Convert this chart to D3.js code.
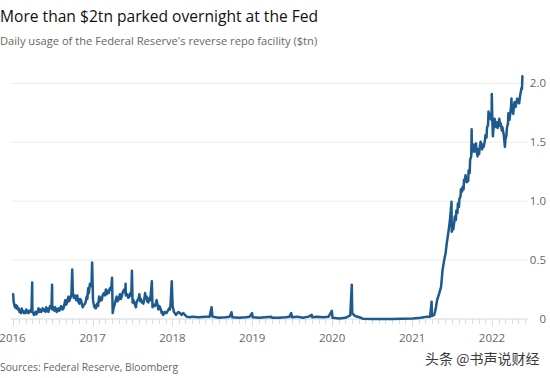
<!DOCTYPE html>
<html><head><meta charset="utf-8">
<script src="https://cdn.jsdelivr.net/npm/d3@7"></script>
<style>
html,body{margin:0;padding:0;background:#fff;}
svg{display:block;}
</style></head>
<body>
<svg id="c" width="550" height="378"></svg>
<script>
const title = "More than $2tn parked overnight at the Fed";
const subtitle = "Daily usage of the Federal Reserve's reverse repo facility ($tn)";
const source = "Sources: Federal Reserve, Bloomberg";
const watermark = "头条 @书声说财经";
const yTicks = [0, 0.5, 1.0, 1.5, 2.0];
const yTickLabels = ["0", "0.5", "1.0", "1.5", "2.0"];
const xYears = ["2016","2017","2018","2019","2020","2021","2022"];

const dates2016 = ["2016-01-04","2016-01-06","2016-01-08","2016-01-12","2016-01-15","2016-01-19","2016-01-22","2016-01-26","2016-01-29","2016-02-02","2016-02-05","2016-02-09","2016-02-12","2016-02-16","2016-02-19","2016-02-23","2016-02-26","2016-03-01","2016-03-04","2016-03-09","2016-03-14","2016-03-17","2016-03-22","2016-03-28","2016-03-31","2016-04-01","2016-04-05","2016-04-08","2016-04-12","2016-04-15","2016-04-19","2016-04-22","2016-04-26","2016-04-29","2016-05-03","2016-05-06","2016-05-11","2016-05-18","2016-05-23","2016-05-27","2016-05-31","2016-06-03","2016-06-08","2016-06-13","2016-06-17","2016-06-21","2016-06-27","2016-06-30","2016-07-01","2016-07-06","2016-07-11","2016-07-14","2016-07-19","2016-07-21","2016-07-26","2016-07-29","2016-08-02","2016-08-05","2016-08-10","2016-08-13","2016-08-17","2016-08-21","2016-08-25","2016-08-29","2016-09-01","2016-09-05","2016-09-08","2016-09-13","2016-09-16","2016-09-20","2016-09-26","2016-09-30","2016-10-03","2016-10-07","2016-10-12","2016-10-18","2016-10-23","2016-10-27","2016-11-02","2016-11-05","2016-11-09","2016-11-14","2016-11-17","2016-11-22","2016-11-28","2016-12-01","2016-12-05","2016-12-08","2016-12-12","2016-12-15","2016-12-20","2016-12-27","2016-12-30"];
const values2016 = [0.21,0.15,0.13,0.10,0.12,0.09,0.11,0.08,0.09,0.06,0.07,0.05,0.09,0.06,0.07,0.05,0.06,0.05,0.08,0.06,0.05,0.07,0.06,0.09,0.31,0.06,0.05,0.035,0.05,0.06,0.04,0.05,0.07,0.09,0.06,0.08,0.06,0.09,0.07,0.08,0.06,0.10,0.08,0.06,0.09,0.11,0.09,0.29,0.08,0.10,0.07,0.10,0.08,0.06,0.08,0.09,0.07,0.08,0.11,0.10,0.08,0.09,0.12,0.16,0.12,0.13,0.16,0.19,0.15,0.17,0.20,0.42,0.22,0.18,0.20,0.16,0.20,0.15,0.13,0.17,0.16,0.12,0.10,0.12,0.13,0.15,0.19,0.17,0.26,0.22,0.30,0.28,0.48];

const dates2017 = ["2017-01-03","2017-01-06","2017-01-10","2017-01-16","2017-01-19","2017-01-22","2017-01-26","2017-01-31","2017-02-03","2017-02-07","2017-02-12","2017-02-16","2017-02-22","2017-02-27","2017-03-03","2017-03-07","2017-03-12","2017-03-16","2017-03-21","2017-03-27","2017-03-31","2017-04-03","2017-04-07","2017-04-13","2017-04-18","2017-04-21","2017-04-25","2017-04-29","2017-05-03","2017-05-06","2017-05-10","2017-05-14","2017-05-18","2017-05-25","2017-05-31","2017-06-01","2017-06-02","2017-06-09","2017-06-13","2017-06-18","2017-06-23","2017-06-27","2017-06-30","2017-07-03","2017-07-07","2017-07-12","2017-07-18","2017-07-21","2017-07-26","2017-07-31","2017-08-03","2017-08-07","2017-08-10","2017-08-15","2017-08-21","2017-08-25","2017-08-29","2017-09-01","2017-09-05","2017-09-08","2017-09-13","2017-09-18","2017-09-22","2017-09-29","2017-10-02","2017-10-06","2017-10-13","2017-10-18","2017-10-21","2017-10-25","2017-10-29","2017-11-02","2017-11-05","2017-11-09","2017-11-13","2017-11-16","2017-11-20","2017-11-24","2017-11-28","2017-12-01","2017-12-05","2017-12-11","2017-12-17","2017-12-20","2017-12-23","2017-12-29"];
const values2017 = [0.16,0.13,0.10,0.09,0.12,0.13,0.11,0.19,0.15,0.18,0.16,0.20,0.22,0.20,0.25,0.21,0.24,0.22,0.26,0.25,0.35,0.05,0.09,0.13,0.17,0.19,0.15,0.16,0.19,0.21,0.17,0.19,0.22,0.25,0.22,0.30,0.20,0.21,0.18,0.19,0.22,0.20,0.41,0.14,0.16,0.13,0.10,0.14,0.16,0.18,0.21,0.15,0.17,0.14,0.13,0.16,0.22,0.18,0.19,0.15,0.14,0.18,0.16,0.32,0.10,0.12,0.11,0.14,0.16,0.12,0.08,0.11,0.10,0.08,0.05,0.06,0.035,0.05,0.06,0.05,0.05,0.07,0.09,0.08,0.11,0.32];

const dates2018_20 = ["2018-01-02","2018-01-08","2018-01-17","2018-01-28","2018-02-05","2018-02-12","2018-02-20","2018-03-07","2018-03-22","2018-04-02","2018-04-30","2018-05-31","2018-06-20","2018-06-29","2018-07-03","2018-07-31","2018-08-31","2018-09-20","2018-09-28","2018-10-02","2018-11-01","2018-12-03","2018-12-20","2018-12-31",
"2019-01-03","2019-02-01","2019-03-01","2019-03-29","2019-04-02","2019-05-01","2019-06-03","2019-06-20","2019-06-28","2019-07-02","2019-07-25","2019-08-20","2019-09-16","2019-09-30","2019-10-02","2019-10-25","2019-11-20","2019-12-16","2019-12-31",
"2020-01-03","2020-02-03","2020-03-02","2020-03-24","2020-03-31","2020-04-02","2020-04-15","2020-05-05","2020-05-20","2020-07-01","2020-10-01","2021-01-04","2021-02-10","2021-03-10","2021-03-24"];
const values2018_20 = [0.11,0.06,0.035,0.06,0.05,0.035,0.05,0.02,0.015,0.02,0.015,0.02,0.02,0.10,0.02,0.01,0.015,0.02,0.057,0.015,0.01,0.015,0.02,0.05,
0.015,0.01,0.015,0.02,0.01,0.01,0.015,0.02,0.05,0.015,0.02,0.01,0.02,0.035,0.015,0.02,0.015,0.02,0.07,
0.01,0.005,0.01,0.03,0.29,0.05,0.025,0.015,0.003,0.001,0.001,0.005,0.01,0.02,0.02];

const dates2021 = ["2021-03-31","2021-04-01","2021-04-12","2021-04-19","2021-04-25","2021-05-05","2021-05-13","2021-05-20","2021-05-26","2021-06-03","2021-06-08","2021-06-17","2021-06-22","2021-06-30","2021-07-01","2021-07-06","2021-07-08","2021-07-13","2021-07-15","2021-07-20","2021-07-22","2021-07-27","2021-07-29","2021-08-03","2021-08-05","2021-08-10","2021-08-12","2021-08-17","2021-08-19","2021-08-24","2021-08-26","2021-08-31","2021-09-02","2021-09-07","2021-09-09","2021-09-14","2021-09-16","2021-09-21","2021-09-23","2021-09-28","2021-09-30","2021-10-01","2021-10-05","2021-10-08","2021-10-13","2021-10-15","2021-10-20","2021-10-22","2021-10-27","2021-10-29","2021-11-03","2021-11-05","2021-11-10","2021-11-12","2021-11-17","2021-11-19","2021-11-24","2021-11-30","2021-12-02","2021-12-07","2021-12-09","2021-12-14","2021-12-16","2021-12-21","2021-12-23","2021-12-30","2021-12-31"];
const values2021 = [0.147,0.025,0.035,0.09,0.16,0.22,0.27,0.415,0.485,0.56,0.64,0.755,0.825,0.995,0.74,0.79,0.76,0.83,0.87,0.84,0.92,0.90,0.98,0.95,1.02,1.04,1.10,1.08,1.12,1.10,1.18,1.19,1.22,1.16,1.18,1.17,1.26,1.24,1.35,1.38,1.61,1.41,1.45,1.48,1.42,1.46,1.49,1.43,1.38,1.44,1.40,1.44,1.505,1.47,1.44,1.48,1.46,1.52,1.56,1.54,1.62,1.65,1.76,1.70,1.74,1.69,1.91];

const dates2022 = ["2022-01-03","2022-01-05","2022-01-07","2022-01-11","2022-01-13","2022-01-18","2022-01-20","2022-01-25","2022-01-27","2022-02-01","2022-02-03","2022-02-08","2022-02-10","2022-02-15","2022-02-17","2022-02-22","2022-02-24","2022-03-01","2022-03-03","2022-03-08","2022-03-10","2022-03-15","2022-03-17","2022-03-22","2022-03-24","2022-03-29","2022-03-31","2022-04-01","2022-04-05","2022-04-08","2022-04-12","2022-04-14","2022-04-19","2022-04-22","2022-04-26","2022-04-28","2022-05-02","2022-05-05","2022-05-09","2022-05-12","2022-05-16","2022-05-18","2022-05-20"];
const values2022 = [1.66,1.55,1.60,1.66,1.70,1.65,1.63,1.67,1.62,1.66,1.70,1.64,1.66,1.60,1.63,1.58,1.56,1.46,1.52,1.56,1.62,1.66,1.745,1.69,1.72,1.80,1.87,1.76,1.78,1.74,1.82,1.84,1.80,1.83,1.87,1.84,1.86,1.83,1.89,1.92,1.96,1.95,2.06];

const parse = d3.utcParse("%Y-%m-%d");
const allDates = [].concat(dates2016, dates2017, dates2018_20, dates2021, dates2022);
const allValues = [].concat(values2016, values2017, values2018_20, values2021, values2022);
const data = allDates.map((d, i) => ({date: parse(d), value: allValues[i]}));

const svg = d3.select("#c");
const x = d3.scaleUtc().domain([parse("2016-01-01"), parse("2022-01-01")]).range([12.5, 492]);
const y = d3.scaleLinear().domain([0, 2]).range([319, 83.3]);
const plotLeft = 11, plotRight = 528;
const grey = "#6b6662";

// title / subtitle
svg.append("text").attr("x", 0).attr("y", 21.5).text(title)
  .attr("font-family", "'Open Sans', sans-serif").attr("font-size", 15.6).attr("fill", "#111");
svg.append("text").attr("x", 0).attr("y", 45).text(subtitle)
  .attr("font-family", "'Open Sans', sans-serif").attr("font-size", 11.15).attr("fill", grey);

// gridlines
svg.append("g").selectAll("line").data(yTicks.filter(v => v > 0)).join("line")
  .attr("x1", plotLeft).attr("x2", plotRight)
  .attr("y1", d => y(d)).attr("y2", d => y(d))
  .attr("stroke", "#ebebeb").attr("stroke-width", 1);

// y labels
svg.append("g").selectAll("text").data(yTicks).join("text")
  .attr("x", 546).attr("y", d => y(d)).attr("dy", "0.35em")
  .attr("text-anchor", "end").text((d, i) => yTickLabels[i])
  .attr("font-family", "'Open Sans', sans-serif").attr("font-size", 11.5).attr("fill", grey);

// x axis baseline and ticks
svg.append("line").attr("x1", plotLeft).attr("x2", plotRight).attr("y1", y(0)).attr("y2", y(0))
  .attr("stroke", "#d6d6d6").attr("stroke-width", 1);
const months = d3.utcMonth.range(parse("2016-01-01"), parse("2022-07-01"));
svg.append("g").selectAll("line").data(months).join("line")
  .attr("x1", d => Math.round(x(d)) + 0.5).attr("x2", d => Math.round(x(d)) + 0.5)
  .attr("y1", y(0)).attr("y2", d => y(0) + (d.getUTCMonth() === 0 ? 7 : 5))
  .attr("stroke", "#dcdcdc").attr("stroke-width", 1);

svg.append("g").selectAll("text").data(xYears).join("text")
  .attr("x", d => x(parse(d + "-01-01"))).attr("y", 342)
  .attr("text-anchor", "middle").text(d => d)
  .attr("font-family", "'Open Sans', sans-serif").attr("font-size", 11.5).attr("fill", grey);

// line
const line = d3.line().x(d => x(d.date)).y(d => y(d.value));
svg.append("path").datum(data).attr("d", line)
  .attr("fill", "none").attr("stroke", "#1d5a8e").attr("stroke-width", 2.5)
  .attr("stroke-linejoin", "round").attr("stroke-linecap", "round");

// source
svg.append("text").attr("x", 0).attr("y", 371).text(source)
  .attr("font-family", "'Open Sans', sans-serif").attr("font-size", 10.3).attr("fill", grey);

// watermark
svg.append("text").attr("x", 425).attr("y", 364).text(watermark)
  .attr("font-family", "'Noto Sans CJK SC', sans-serif").attr("font-size", 14).attr("fill", "#3a3a3a");
</script>
</body></html>
